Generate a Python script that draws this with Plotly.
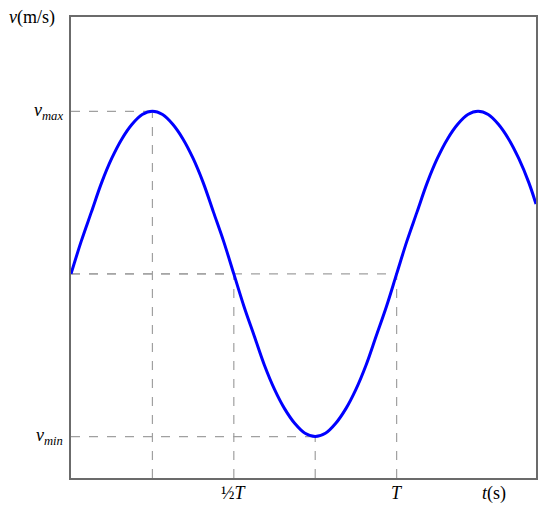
import plotly.graph_objs as go

# curve samples (t in units of T, v in units of v_max)
t_vals = [i / 32 for i in range(46)] + [1.428]
v_vals = [0, 0.20, 0.38, 0.56, 0.71, 0.83, 0.92, 0.98,
          1.0, 0.98, 0.92, 0.83, 0.71, 0.56, 0.38, 0.20,
          0, -0.20, -0.38, -0.56, -0.71, -0.83, -0.92, -0.98,
          -1.0, -0.98, -0.92, -0.83, -0.71, -0.56, -0.38, -0.20,
          0, 0.20, 0.38, 0.56, 0.71, 0.83, 0.92, 0.98,
          1.0, 0.98, 0.92, 0.83, 0.71, 0.56, 0.43]

# guide points (dashed lines drop to the axes from these)
guide_t = [0.25, 0.5, 0.75, 1.0]
guide_v = [1.0, 0, -1.0, 0]

x_range = [0, 1.428]
y_range = [-1.255, 1.58]

y_tick_vals = [1.0, -1.0]
y_tick_text = ["<i>v</i><sub><i>max</i></sub>", "<i>v</i><sub><i>min</i></sub>"]
x_tick_vals = [0.5, 1.0]
x_tick_text = ["½<i>T</i>", "<i>T</i>"]

serif = dict(family="Liberation Serif", size=18, color="black")
guide_style = dict(color="#a0a0a0", width=1.2, dash="dash")

fig = go.Figure()

for t, v in zip(guide_t, guide_v):
    fig.add_trace(go.Scatter(x=[x_range[0], t], y=[v, v], mode="lines",
                             line=guide_style, hoverinfo="skip"))
    fig.add_trace(go.Scatter(x=[t, t], y=[y_range[0], v], mode="lines",
                             line=guide_style, hoverinfo="skip"))

fig.add_trace(go.Scatter(x=t_vals, y=v_vals, mode="lines",
                         line=dict(color="#0000ff", width=3, shape="spline"),
                         name="v"))

axis_common = dict(showline=True, mirror=True, linecolor="#6b6b6b", linewidth=2,
                   showgrid=False, zeroline=False, showticklabels=False,
                   ticks="", automargin=False)

annotations = []
for v, txt in zip(y_tick_vals, y_tick_text):
    annotations.append(dict(text=txt, xref="paper", yref="y", x=0, y=v,
                            xanchor="right", yanchor="middle", xshift=-6,
                            showarrow=False, font=serif))
for t, txt in zip(x_tick_vals, x_tick_text):
    annotations.append(dict(text=txt, xref="x", yref="paper", x=t, y=0,
                            xanchor="center", yanchor="top", yshift=-3,
                            showarrow=False, font=serif))
annotations += [
    dict(text="<i>v</i>(m/s)", xref="paper", yref="paper", x=0, y=1,
         xanchor="right", yanchor="middle", xshift=-14, showarrow=False, font=serif),
    dict(text="<i>t</i>(s)", xref="x", yref="paper", x=1.3, y=0,
         xanchor="center", yanchor="top", yshift=-3, showarrow=False, font=serif),
]

fig.update_layout(
    width=550, height=517,
    margin=dict(l=71, r=14, t=17, b=39),
    plot_bgcolor="white", paper_bgcolor="white",
    showlegend=False,
    xaxis=dict(range=x_range, **axis_common),
    yaxis=dict(range=y_range, **axis_common),
    annotations=annotations,
)

fig.write_html("out.html",
               config={"displayModeBar": False},
               post_script="document.body.style.margin='0';"
                           "document.body.style.overflow='hidden';")
